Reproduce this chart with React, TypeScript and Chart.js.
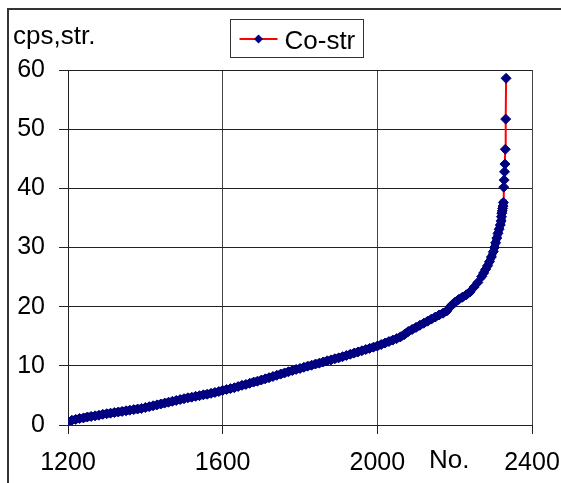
import React, { useEffect, useRef } from "react";
import { Chart, registerables } from "chart.js";

Chart.register(...registerables);

// ---- data ----
const SERIES_LABEL = "Co-str";
const Y_TITLE = "cps,str.";
const X_TITLE = "No.";

const X_VALUES = [
  1200, 1210, 1220, 1230, 1240, 1250, 1260, 1270, 1280, 1290,
  1300, 1310, 1320, 1330, 1340, 1350, 1360, 1370, 1380, 1390,
  1400, 1410, 1420, 1430, 1440, 1450, 1460, 1470, 1480, 1490,
  1500, 1510, 1520, 1530, 1540, 1550, 1560, 1570, 1580, 1590,
  1600, 1610, 1620, 1630, 1640, 1650, 1660, 1670, 1680, 1690,
  1700, 1710, 1720, 1730, 1740, 1750, 1760, 1770, 1780, 1790,
  1800, 1810, 1820, 1830, 1840, 1850, 1860, 1870, 1880, 1890,
  1900, 1910, 1920, 1930, 1940, 1950, 1960, 1970, 1980, 1990,
  2000, 2010, 2020, 2030, 2040, 2050, 2060, 2070, 2080, 2090,
  2100, 2110, 2120, 2130, 2140, 2150, 2160, 2170, 2180, 2190,
  2200, 2210, 2220, 2230, 2240, 2250, 2260, 2270, 2275, 2280,
  2285, 2290, 2295, 2300, 2303, 2306, 2309, 2312, 2315, 2318,
  2320, 2321, 2322, 2323, 2324, 2325, 2326,
  2327, 2328, 2329, 2330, 2331, 2332, 2333,
];

const Y_VALUES = [
  0.5, 0.8, 0.95, 1.1, 1.2, 1.35, 1.45, 1.55, 1.65, 1.8,
  1.9, 2.0, 2.1, 2.2, 2.3, 2.4, 2.5, 2.6, 2.7, 2.8,
  2.95, 3.1, 3.25, 3.4, 3.55, 3.7, 3.85, 4.0, 4.15, 4.3,
  4.45, 4.6, 4.7, 4.85, 4.95, 5.1, 5.2, 5.35, 5.5, 5.65,
  5.85, 6.0, 6.15, 6.3, 6.5, 6.7, 6.85, 7.05, 7.25, 7.4,
  7.6, 7.8, 8.0, 8.2, 8.4, 8.6, 8.8, 9.0, 9.2, 9.4,
  9.55, 9.75, 9.95, 10.1, 10.3, 10.45, 10.65, 10.85, 11.0, 11.2,
  11.35, 11.55, 11.75, 11.95, 12.15, 12.35, 12.55, 12.75, 12.95, 13.15,
  13.35, 13.6, 13.85, 14.1, 14.35, 14.6, 14.9, 15.3, 15.8, 16.15,
  16.5, 16.85, 17.2, 17.55, 17.9, 18.25, 18.6, 18.9, 19.3, 20.1,
  20.7, 21.2, 21.6, 22.0, 22.5, 23.3, 24.1, 25.1, 25.7, 26.3,
  26.9, 27.6, 28.4, 29.3, 30.0, 30.8, 31.6, 32.4, 33.1, 33.8,
  34.5, 35.2, 35.8, 36.2, 36.6, 37.0, 37.6,
  40.2, 41.4, 42.8, 44.1, 46.6, 51.7, 58.6,
];

const X_MIN = 1200;
const X_MAX = 2400;
const X_STEP = 400;
const Y_MIN = 0;
const Y_MAX = 60;
const Y_STEP = 10;

// ---- styles ----
const FONT_FAMILY = '"Liberation Sans", Arial, sans-serif';
const FONT_SIZE = 26;
const TICK_FONT_SIZE = 25;
const MARKER_COLOR = "#000080";
const LINE_COLOR = "#ff0000";
const GRID_COLOR = "#222222";
const VGRID_COLOR = "#444444";
const DENSE_GAP_PX = 6;

const W = 561;
const H = 483;

const decorPlugin = {
  id: "decor",
  afterDraw(chart: any) {
    const ctx = chart.ctx as CanvasRenderingContext2D;
    const ds = chart.data.datasets[0];
    ctx.save();
    ctx.font = `${FONT_SIZE}px ${FONT_FAMILY}`;
    ctx.fillStyle = "#000";
    ctx.textBaseline = "alphabetic";
    ctx.textAlign = "left";
    // axis titles
    ctx.fillText(Y_TITLE, 13, 44);
    ctx.fillText(X_TITLE, 429, 468);

    // boxed legend
    const textW = ctx.measureText(ds.label).width;
    const symW = 38;
    const padL = 9;
    const gap = 7;
    const padR = 8;
    const boxW = padL + symW + gap + textW + padR;
    const boxH = 38;
    const cx = 296;
    const left = Math.round(cx - boxW / 2) + 0.5;
    const top = 19.5;
    ctx.strokeStyle = "#333";
    ctx.lineWidth = 1;
    ctx.strokeRect(left, top, Math.round(boxW), boxH);
    const midY = top + 19.5;
    ctx.strokeStyle = LINE_COLOR;
    ctx.lineWidth = 2;
    ctx.beginPath();
    ctx.moveTo(left + padL, midY);
    ctx.lineTo(left + padL + symW, midY);
    ctx.stroke();
    const dx = left + padL + symW / 2;
    const r = 4.5;
    ctx.fillStyle = MARKER_COLOR;
    ctx.beginPath();
    ctx.moveTo(dx, midY - r);
    ctx.lineTo(dx + r, midY);
    ctx.lineTo(dx, midY + r);
    ctx.lineTo(dx - r, midY);
    ctx.closePath();
    ctx.fill();
    ctx.fillStyle = "#000";
    ctx.fillText(ds.label, left + padL + symW + gap, midY + 10);
    ctx.restore();
  },
};

// dense stretches of markers merge into one thick navy band
const isDense = (c: any) => {
  const a = c.p0, b = c.p1;
  return Math.hypot(b.x - a.x, b.y - a.y) < DENSE_GAP_PX;
};

export default function App() {
  const canvasRef = useRef<HTMLCanvasElement | null>(null);

  useEffect(() => {
    if (!canvasRef.current) return;
    const points = X_VALUES.map((x, i) => ({ x, y: Y_VALUES[i] }));
    const chart = new Chart(canvasRef.current, {
      type: "scatter",
      data: {
        datasets: [
          {
            label: SERIES_LABEL,
            data: points,
            showLine: true,
            borderColor: LINE_COLOR,
            borderWidth: 2,
            segment: {
              borderColor: (c: any) => (isDense(c) ? MARKER_COLOR : LINE_COLOR),
              borderWidth: (c: any) => (isDense(c) ? 8 : 2),
            },
            borderCapStyle: "round",
            borderJoinStyle: "round",
            pointStyle: "rectRot",
            pointRadius: 5,
            pointBorderWidth: 1,
            pointBackgroundColor: MARKER_COLOR,
            pointBorderColor: MARKER_COLOR,
            backgroundColor: MARKER_COLOR,
          } as any,
        ],
      },
      options: {
        responsive: false,
        animation: false,
        events: [],
        layout: { padding: { left: 0, right: 29, top: 70, bottom: 0 } },
        plugins: {
          legend: { display: false },
          tooltip: { enabled: false },
          title: { display: false },
        },
        scales: {
          x: {
            type: "linear",
            min: X_MIN,
            max: X_MAX,
            border: { display: true, color: GRID_COLOR, width: 1 },
            grid: {
              color: VGRID_COLOR,
              lineWidth: 1,
              drawTicks: true,
              tickLength: 9,
              tickColor: GRID_COLOR,
            },
            ticks: {
              stepSize: X_STEP,
              padding: 14,
              color: "#000",
              maxRotation: 0,
              font: { family: FONT_FAMILY, size: TICK_FONT_SIZE },
              callback: (v: any) => String(v),
            },
            afterFit(scale: any) {
              scale.height = 58;
              scale.paddingLeft = 0;
              scale.paddingRight = 0;
            },
          },
          y: {
            type: "linear",
            min: Y_MIN,
            max: Y_MAX,
            border: { display: true, color: GRID_COLOR, width: 1 },
            grid: {
              color: GRID_COLOR,
              lineWidth: 1,
              drawTicks: true,
              tickLength: 9,
              tickColor: GRID_COLOR,
            },
            ticks: {
              stepSize: Y_STEP,
              padding: 14,
              color: "#000",
              font: { family: FONT_FAMILY, size: TICK_FONT_SIZE },
              callback: (v: any) => String(v),
            },
            afterFit(scale: any) {
              scale.width = 68;
              scale.paddingTop = 0;
              scale.paddingBottom = 0;
            },
          },
        },
      },
      plugins: [decorPlugin],
    });
    return () => chart.destroy();
  }, []);

  return (
    <div
      style={{
        position: "fixed",
        left: 0,
        top: 0,
        width: W,
        height: H,
        overflow: "hidden",
        background: "#fff",
      }}
    >
      <div
        style={{
          position: "absolute",
          left: 7,
          top: 8,
          width: W,
          height: H,
          borderLeft: "2px solid #333",
          borderTop: "2px solid #333",
        }}
      />
      <canvas
        ref={canvasRef}
        width={W}
        height={H}
        style={{ position: "absolute", left: 0, top: 0, display: "block" }}
      />
    </div>
  );
}
